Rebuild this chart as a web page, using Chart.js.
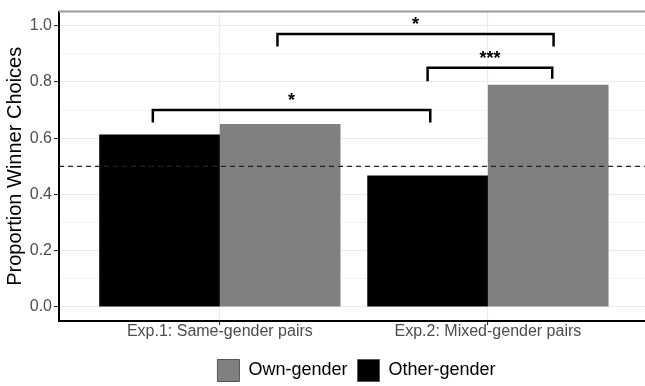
<!DOCTYPE html>
<html><head><meta charset="utf-8">
<script src="https://cdn.jsdelivr.net/npm/chart.js@4.4.0/dist/chart.umd.min.js"></script>
<style>html,body{margin:0;padding:0;background:#fff}</style>
</head><body>
<canvas id="c" width="645" height="386"></canvas>
<script>
// ---- data ----
const categories = ['Exp.1: Same-gender pairs', 'Exp.2: Mixed-gender pairs'];
const categoryPositions = [1, 2];
const ownGender = [0.650, 0.790];
const otherGender = [0.613, 0.467];
const chanceLevel = 0.5;
const yMajorTicks = [0, 0.2, 0.4, 0.6, 0.8, 1.0];
const yMinorTicks = [0.1, 0.3, 0.5, 0.7, 0.9];
const bracketStart = [0.75, 1.775, 1.215];
const bracketEnd = [1.785, 2.24, 2.245];
const bracketY = [0.70, 0.85, 0.97];
const bracketTipLeft = [0.656, 0.802, 0.926];
const bracketTipRight = [0.656, 0.811, 0.926];
const bracketLabels = ['*', '***', '*'];

Chart.defaults.font.family = "'Liberation Sans', Arial, sans-serif";

const bracketDatasets = bracketY.map((y, i) => ({
  type: 'line', label: 'bracket' + i, order: 1,
  data: [
    {x: bracketStart[i], y: bracketTipLeft[i]},
    {x: bracketStart[i], y: y},
    {x: bracketEnd[i], y: y},
    {x: bracketEnd[i], y: bracketTipRight[i]}
  ],
  borderColor: '#000', borderWidth: 2.5, pointRadius: 0, fill: false, tension: 0,
  borderJoinStyle: 'miter', borderCapStyle: 'butt'
}));

const annot = {
  id: 'annot',
  afterLayout(chart) {
    const lg = chart.legend;
    lg.left += 34; lg.right += 34;
    lg.top += 5.5; lg.bottom += 5.5;
  },
  afterDatasetsDraw(chart) {
    const {ctx, chartArea, scales: {x, y}} = chart;
    ctx.save();
    ctx.strokeStyle = '#9a9a9a';
    ctx.lineWidth = 2;
    ctx.beginPath();
    ctx.moveTo(chartArea.left, chartArea.top);
    ctx.lineTo(chartArea.right, chartArea.top);
    ctx.stroke();
    ctx.fillStyle = '#000';
    ctx.font = "bold 18px 'Liberation Sans', Arial, sans-serif";
    ctx.textAlign = 'center';
    ctx.textBaseline = 'alphabetic';
    bracketLabels.forEach((t, i) => {
      const px = x.getPixelForValue((bracketStart[i] + bracketEnd[i]) / 2);
      const py = y.getPixelForValue(bracketY[i]);
      ctx.fillText(t, px, py - 4);
    });
    ctx.restore();
  }
};

new Chart(document.getElementById('c'), {
  type: 'bar',
  data: {
    datasets: [
      {label: 'Other-gender', order: 2, backgroundColor: '#000000', borderWidth: 0,
       data: categoryPositions.map((p, i) => ({x: p, y: otherGender[i]}))},
      {label: 'Own-gender', order: 2, backgroundColor: '#808080', borderWidth: 0,
       data: categoryPositions.map((p, i) => ({x: p, y: ownGender[i]}))},
      ...bracketDatasets,
      {type: 'line', label: 'chance', order: 1,
       data: [{x: 0.4, y: chanceLevel}, {x: 2.586, y: chanceLevel}],
       borderColor: '#222', borderWidth: 1.2, borderDash: [5, 4], pointRadius: 0, fill: false}
    ]
  },
  options: {
    responsive: false,
    devicePixelRatio: 1,
    animation: false,
    categoryPercentage: 0.9,
    barPercentage: 1.0,
    layout: {padding: {top: 8, left: 0, right: 0, bottom: 0}},
    plugins: {
      tooltip: {enabled: false},
      legend: {
        position: 'bottom',
        reverse: true,
        labels: {
          boxWidth: 22, boxHeight: 22, padding: 10,
          color: '#000', font: {size: 18},
          filter: item => item.datasetIndex < 2,
          generateLabels: chart => Chart.defaults.plugins.legend.labels.generateLabels(chart).map(it => {
            it.strokeStyle = '#555'; it.lineWidth = 1; return it;
          })
        }
      }
    },
    scales: {
      x: {
        type: 'linear', min: 0.4, max: 2.586, offset: false,
        afterBuildTicks: s => { s.ticks = categoryPositions.map(v => ({value: v})); },
        afterFit: s => { s.height = 23; },
        ticks: {
          callback: v => { const k = categoryPositions.indexOf(v); return k >= 0 ? categories[k] : ''; },
          font: {size: 16}, color: '#4d4d4d', padding: -3, maxRotation: 0, autoSkip: false
        },
        grid: {offset: false, color: '#ebebeb', lineWidth: 1.1, tickLength: 4, tickColor: '#333', tickWidth: 1.1},
        border: {display: true, color: '#000', width: 2}
      },
      y: {
        min: -0.05, max: 1.05,
        afterBuildTicks: s => {
          s.ticks = [...yMajorTicks, ...yMinorTicks].sort((a, b) => a - b).map(v => ({value: v}));
        },
        afterFit: s => { s.width = 59; },
        ticks: {
          callback: v => yMajorTicks.includes(v) ? v.toFixed(1) : '',
          font: {size: 16}, color: '#4d4d4d', padding: 2, autoSkip: false
        },
        grid: {
          color: '#ebebeb',
          lineWidth: c => (c.tick && yMajorTicks.includes(c.tick.value)) ? 1.1 : 0.55,
          tickLength: 5,
          tickColor: c => (c.tick && yMajorTicks.includes(c.tick.value)) ? '#333' : 'rgba(0,0,0,0)',
          tickWidth: 1.1
        },
        border: {display: true, color: '#000', width: 2},
        title: {display: true, text: 'Proportion Winner Choices', color: '#000', font: {size: 20}, padding: {top: 3, bottom: 0}}
      }
    }
  },
  plugins: [annot]
});
</script>
</body></html>
